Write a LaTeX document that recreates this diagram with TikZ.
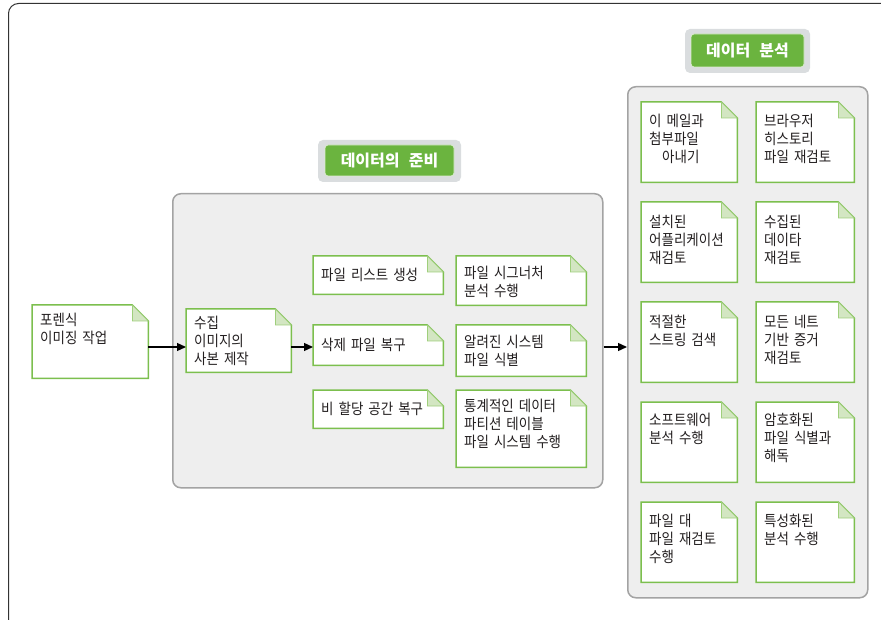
\documentclass[tikz,border=0pt]{standalone}
\usepackage{fontspec}
\newfontfamily\kr{Noto Sans CJK KR}[FakeStretch=0.9,WordSpace=4.8]
\newfontfamily\krhead{Noto Sans CJK KR}[WordSpace=2.5]
\usetikzlibrary{arrows.meta}
\pgfdeclarelayer{back}
\pgfdeclarelayer{mid}
\pgfsetlayers{back,mid,main}
\definecolor{notegreen}{HTML}{7CBF4E}
\definecolor{foldgreen}{HTML}{D3E6C2}
\definecolor{headgreen}{HTML}{6BB43F}
\definecolor{headgray}{HTML}{DADDDF}
\definecolor{panelfill}{HTML}{EEEEEE}
\definecolor{panelline}{HTML}{A3A3A3}
\definecolor{txt}{HTML}{231F20}
\tikzset{
  note/.style n args={3}{rectangle, anchor=north west, inner xsep=8pt, inner ysep=0pt,
    minimum width=#1pt, text width=#1pt-16pt, text height=#3pt, text depth=#2pt-#3pt,
    align=left, font=\kr\fontsize{15}{18}\selectfont, text=txt},
  noteline/.style={draw=notegreen, fill=white, line width=1.5pt},
  foldline/.style={draw=notegreen!60!foldgreen, fill=foldgreen, line width=0.8pt},
  panel/.style n args={2}{rectangle, anchor=north west, minimum width=#1pt, minimum height=#2pt,
    inner sep=0pt, fill=panelfill, draw=panelline, line width=1.5pt, rounded corners=8pt},
  headback/.style={rectangle, fill=headgray, rounded corners=5pt, inner sep=0pt},
  headbox/.style={rectangle, fill=headgreen, draw=white!75!headgreen, line width=0.8pt,
    rounded corners=3pt, inner sep=0pt, text=white, font=\krhead\bfseries\fontsize{16}{18}\selectfont},
  flow/.style={-{Triangle[length=9pt,width=8pt]}, line width=1.3pt, black},
}
\begin{document}
\begin{tikzpicture}[x=1pt,y=-1pt]
\useasboundingbox (0,0) rectangle (881,620);
\clip (0,0) rectangle (881,620);
% frame
\draw[draw=black!80, line width=1pt, rounded corners=10pt] (8.5,3.5) rectangle (900,650);
% panels
\begin{pgfonlayer}{back}
\node[panel={430}{294}] (prep) at (172,193) {};
\node[panel={240}{511}] (ana) at (627,86) {};
\end{pgfonlayer}
% titles
\node[headback, minimum width=143pt, minimum height=42pt] (prepback) at (389.5,161) {};
\node[headbox, minimum width=129pt, minimum height=31pt] (prephead) at (389.5,160.5) {데이터의 준비};
\node[headback, minimum width=125pt, minimum height=44pt] (anaback) at (747.5,51) {};
\node[headbox, minimum width=113pt, minimum height=33pt] (anahead) at (747.5,50.5) {데이터 분석};
% first steps
\node[note={116}{73}{20}] (forensic) at (32,305) {포렌식\\이미징 작업};
\node[note={105}{63}{19}] (copy) at (186,309) {수집\\이미지의\\사본 제작};
% data preparation
\node[note={130}{38}{24}] (list) at (313,256) {파일 리스트 생성};
\node[note={130}{49}{22}] (sig) at (456,256) {파일 시그너처\\분석 수행};
\node[note={130}{40}{25}] (del) at (313,325) {삭제 파일 복구};
\node[note={130}{51}{22}] (known) at (456,325) {알려진 시스템\\파일 식별};
\node[note={130}{38}{24}] (unalloc) at (313,390) {비 할당 공간 복구};
\node[note={130}{77}{21}] (stat) at (456,390) {통계적인 데이터\\파티션 테이블\\파일 시스템 수행};
% data analysis
\node[note={96}{80}{24}] (mail) at (641,102) {이 메일과\\첨부파일\\\hspace*{13pt}아내기};
\node[note={98}{80}{24}] (browser) at (756,102) {브라우저\\히스토리\\파일 재검토};
\node[note={96}{80}{25}] (apps) at (641,202) {설치된\\어플리케이션\\재검토};
\node[note={98}{80}{25}] (coll) at (756,202) {수집된\\데이타\\재검토};
\node[note={96}{80}{25}] (search) at (641,302) {적절한\\스트링 검색};
\node[note={98}{80}{25}] (netev) at (756,302) {모든 네트\\기반 증거\\재검토};
\node[note={96}{80}{23}] (soft) at (641,402) {소프트웨어\\분석 수행};
\node[note={98}{80}{23}] (crypt) at (756,402) {암호화된\\파일 식별과\\해독};
\node[note={96}{80}{24}] (cmp) at (641,502) {파일 대\\파일 재검토\\수행};
\node[note={98}{80}{24}] (spec) at (756,502) {특성화된\\분석 수행};
% note outlines
\begin{pgfonlayer}{mid}
\foreach \n in {forensic,copy,list,sig,del,known,unalloc,stat,mail,browser,apps,coll,search,netev,soft,crypt,cmp,spec}{
  \draw[noteline] (\n.north west) -- ([xshift=-16pt]\n.north east) -- ([yshift=-16pt]\n.north east)
    -- (\n.south east) -- (\n.south west) -- cycle;
  \draw[foldline] ([xshift=-16pt]\n.north east) -- ([xshift=-16pt,yshift=-16pt]\n.north east)
    -- ([yshift=-16pt]\n.north east) -- cycle;
}
\end{pgfonlayer}
% arrows
\coordinate (row) at (0,347);
\draw[flow] (forensic.east |- row) -- (copy.west |- row);
\draw[flow] (copy.east |- row) -- (del.west |- row);
\draw[flow] (prep.east |- row) -- (ana.west |- row);
\end{tikzpicture}
\end{document}
